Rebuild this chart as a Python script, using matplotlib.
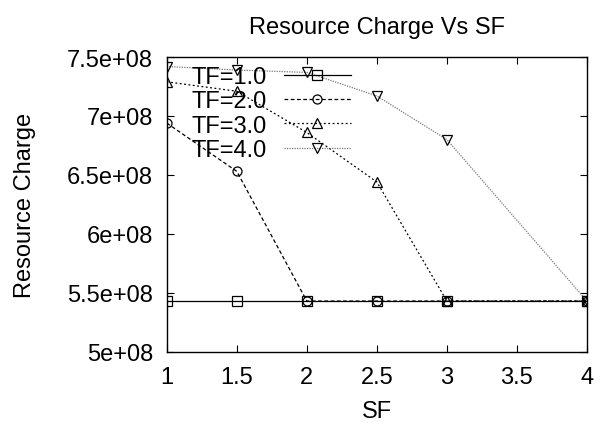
import matplotlib
matplotlib.use('Agg')
import matplotlib.pyplot as plt

plt.rcParams['font.family'] = ['Liberation Sans', 'DejaVu Sans']

sf = [1, 1.5, 2, 2.5, 3, 4]
tf_labels = ['TF=1.0', 'TF=2.0', 'TF=3.0', 'TF=4.0']
charge_tf1 = [5.43e8, 5.43e8, 5.43e8, 5.43e8, 5.43e8, 5.43e8]
charge_tf2 = [6.94e8, 6.53e8, 5.43e8, 5.43e8, 5.43e8, 5.43e8]
charge_tf3 = [7.29e8, 7.21e8, 6.86e8, 6.44e8, 5.43e8, 5.43e8]
charge_tf4 = [7.42e8, 7.39e8, 7.37e8, 7.17e8, 6.80e8, 5.43e8]
yticks = [5e8, 5.5e8, 6e8, 6.5e8, 7e8, 7.5e8]
ytick_labels = ['5e+08', '5.5e+08', '6e+08', '6.5e+08', '7e+08', '7.5e+08']
xticks = [1, 1.5, 2, 2.5, 3, 3.5, 4]
xtick_labels = ['1', '1.5', '2', '2.5', '3', '3.5', '4']

fig = plt.figure(figsize=(6.02, 4.27), dpi=100)
ax = fig.add_axes([0.277, 0.174, 0.698, 0.690])

series = [charge_tf1, charge_tf2, charge_tf3, charge_tf4]
styles = [('s', '-', '#000000'), ('o', (0, (3, 2)), '#000000'),
          ('^', (0, (1.5, 2)), '#000000'), ('v', (0, (1, 1)), '#777777')]
for vals, lab, (mk, ls, col) in zip(series, tf_labels, styles):
    ax.plot(sf, vals, marker=mk, linestyle=ls, color=col, lw=0.9,
            markersize=6.5, markerfacecolor='none', markeredgecolor='#000000',
            markeredgewidth=0.9, label=lab)

ax.set_xlim(1, 4)
ax.set_ylim(5e8, 7.5e8)
ax.set_xticks(xticks)
ax.set_xticklabels(xtick_labels)
ax.set_yticks(yticks)
ax.set_yticklabels(ytick_labels)
ax.tick_params(direction='in', top=True, right=True, labelsize=17, length=5)
ax.tick_params(axis='x', pad=10)
ax.tick_params(axis='y', pad=10)
for s in ax.spines.values():
    s.set_linewidth(1.0)

ax.set_title('Resource Charge Vs SF', fontsize=17, pad=17)
ax.set_xlabel('SF', fontsize=17, labelpad=9)
ax.set_ylabel('Resource Charge', fontsize=17, labelpad=22)

ax.legend(loc='upper left', bbox_to_anchor=(0.06, 0.97), fontsize=17, frameon=False,
          markerfirst=False, handlelength=2.85, labelspacing=0.1, borderpad=0,
          borderaxespad=0, handletextpad=0.7)

fig.savefig('out.png', dpi=100)
